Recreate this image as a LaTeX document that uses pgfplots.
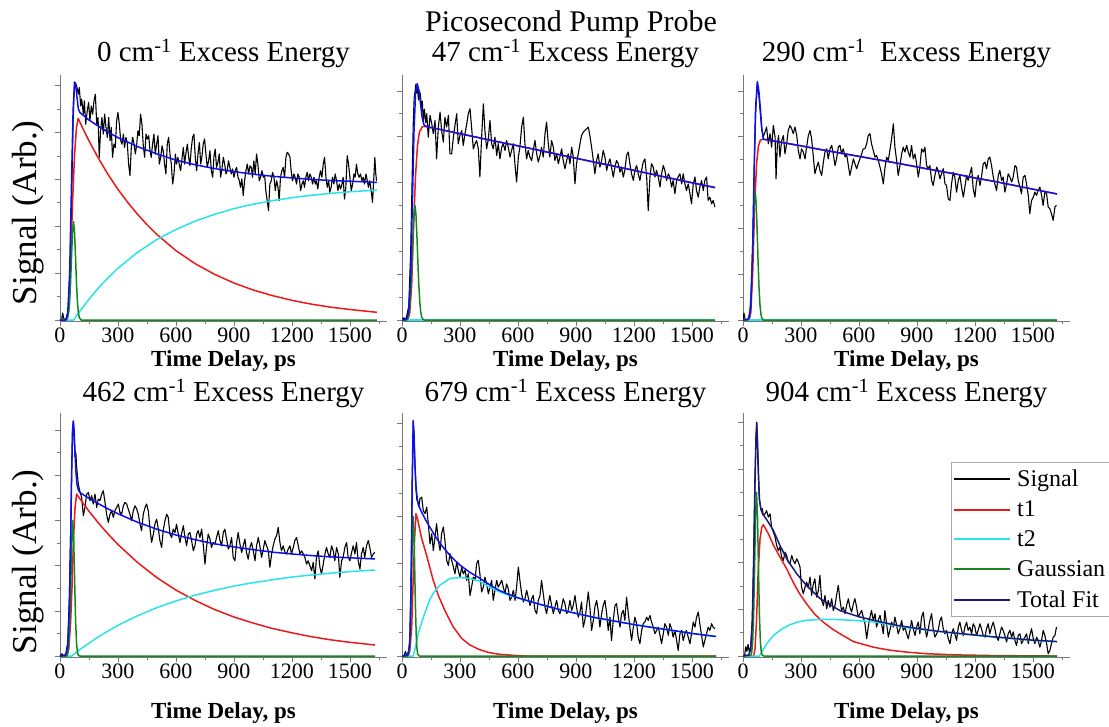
\documentclass[border=0pt]{standalone}
\usepackage{fontspec}
\setmainfont{Liberation Serif}
\usepackage{pgfplots}
\pgfplotsset{compat=1.18}

\definecolor{axgray}{RGB}{120,120,120}
\definecolor{leggray}{RGB}{170,170,170}
\definecolor{tone}{RGB}{235,25,25}
\definecolor{ttwo}{RGB}{40,228,232}
\definecolor{gauss}{RGB}{20,135,30}
\definecolor{fit}{RGB}{15,15,232}
\definecolor{fitnavy}{RGB}{25,25,125}

\tikzset{
  sig/.style={draw=black, line width=1.1pt, line join=round},
  fitln/.style={line width=1.5pt, line join=round},
}

\pgfplotsset{
  panel/.style={
    scale only axis, width=327pt,
    xmin=0, xmax=1692, ymin=-0.004,
    axis lines=left,
    axis line style={-, draw=axgray, line width=0.8pt},
    every tick/.style={draw=axgray, line width=0.6pt},
    tick align=outside,
    major tick length=5pt, minor tick length=3pt,
    xtick={0,300,600,900,1200,1500},
    minor xtick={150,450,750,1050,1350,1650},
    ytick={0,0.2,0.4,0.6,0.8,1.0},
    minor ytick={0.1,0.3,0.5,0.7,0.9},
    yticklabels={},
    xticklabel style={font=\fontsize{22}{22}\selectfont, inner sep=2pt},
    /pgf/number format/assume math mode=true,
    /pgf/number format/1000 sep={},
    title style={font=\fontsize{29}{29}\selectfont, at={(0.5,1)}, anchor=base},
    xlabel={Time Delay, ps},
    xlabel style={font=\bfseries\fontsize{23}{23}\selectfont, anchor=center, inner sep=1pt},
    ylabel style={font=\fontsize{35}{35}\selectfont, anchor=center,
      at={(axis description cs:-0.098,0.44)}},
  },
  toprow/.style={height=246pt, title style={yshift=7pt},
    xlabel style={at={(axis description cs:0.5,-0.163)}}},
  botrow/.style={height=244pt, title style={yshift=5pt},
    xlabel style={at={(axis description cs:0.5,-0.23)}}},
}

\begin{document}
\begin{tikzpicture}
\path[use as bounding box] (0pt,0pt) rectangle (1109pt,727pt);
\node[font=\fontsize{30}{30}\selectfont, anchor=base] at (571pt,695pt) {Picosecond Pump Probe};

% ---------------- 0 cm-1 ----------------
\begin{axis}[panel, toprow, at={(60pt,406pt)}, anchor=south west, ymax=1.045,
  title={0 cm\textsuperscript{-1} Excess Energy}, ylabel={Signal (Arb.)}]
\addplot[sig] coordinates {
(0,0) (8,0) (14,0.03) (18,0.01) (25,0) (35,0.01) (45,0.06) (55,0.3) (62,0.6) (68,0.85) (73,0.97) (78,1.013)
(86,0.999) (95,0.963) (100,0.991) (107,0.913) (112,0.942) (121,0.878) (126,0.935) (133,0.835) (141,0.892)
(148,0.928) (155,0.850) (162,0.913) (169,0.878) (176,0.935) (183,0.963) (190,0.835) (197,0.864) (203,0.694)
(210,0.807) (217,0.864) (224,0.793) (231,0.878) (238,0.821) (245,0.779) (252,0.864) (259,0.765) (265,0.821)
(272,0.694) (279,0.750) (286,0.736) (293,0.850) (300,0.885) (307,0.835) (314,0.765) (321,0.750) (328,0.793)
(334,0.736) (341,0.779) (348,0.757) (355,0.665) (362,0.616) (369,0.736) (376,0.779) (383,0.750) (390,0.708)
(397,0.750) (403,0.807) (410,0.786) (417,0.878) (424,0.835) (431,0.743) (438,0.694) (445,0.793) (452,0.772)
(459,0.786) (465,0.729) (472,0.694) (479,0.750) (486,0.793) (493,0.708) (500,0.750) (507,0.786) (514,0.665)
(521,0.694) (528,0.743) (534,0.722) (541,0.665) (548,0.623) (555,0.750) (562,0.779) (569,0.708) (576,0.665)
(583,0.580) (590,0.623) (597,0.708) (603,0.665) (610,0.694) (617,0.665) (624,0.637) (631,0.687) (638,0.736)
(645,0.665) (652,0.715) (659,0.750) (665,0.701) (672,0.658) (679,0.729) (686,0.779) (693,0.793) (700,0.694)
(707,0.637) (714,0.708) (721,0.757) (728,0.665) (734,0.694) (741,0.750) (748,0.772) (755,0.708) (762,0.651)
(769,0.679) (776,0.722) (783,0.637) (790,0.609) (797,0.701) (803,0.729) (810,0.651) (817,0.672) (824,0.708)
(831,0.609) (838,0.644) (845,0.694) (852,0.665) (859,0.623) (865,0.637) (872,0.679) (879,0.651) (886,0.623)
(893,0.644) (900,0.609) (907,0.637) (914,0.651) (921,0.609) (928,0.594) (934,0.566) (941,0.602) (948,0.531)
(955,0.594) (962,0.637) (969,0.665) (976,0.623) (983,0.658) (990,0.651) (996,0.609) (1003,0.679) (1010,0.623)
(1017,0.708) (1024,0.665) (1031,0.594) (1038,0.609) (1045,0.637) (1052,0.609) (1059,0.616) (1065,0.552)
(1072,0.509) (1079,0.467) (1086,0.580) (1093,0.594) (1100,0.630) (1107,0.609) (1114,0.552) (1121,0.594)
(1128,0.566) (1134,0.509) (1141,0.609) (1148,0.637) (1155,0.651) (1162,0.609) (1169,0.694) (1176,0.715)
(1183,0.708) (1190,0.694) (1196,0.637) (1203,0.594) (1210,0.623) (1217,0.609) (1224,0.580) (1231,0.623)
(1238,0.609) (1245,0.552) (1252,0.580) (1259,0.594) (1265,0.566) (1272,0.609) (1279,0.630) (1286,0.594)
(1293,0.623) (1300,0.609) (1307,0.580) (1314,0.609) (1321,0.580) (1327,0.594) (1334,0.559) (1341,0.609)
(1348,0.637) (1355,0.609) (1362,0.665) (1369,0.694) (1376,0.609) (1383,0.566) (1390,0.594) (1396,0.545)
(1403,0.566) (1410,0.609) (1417,0.580) (1424,0.623) (1431,0.594) (1438,0.552) (1445,0.580) (1452,0.559)
(1459,0.580) (1465,0.609) (1472,0.516) (1479,0.566) (1486,0.701) (1493,0.665) (1500,0.609) (1507,0.552)
(1514,0.580) (1521,0.623) (1527,0.609) (1534,0.665) (1541,0.623) (1548,0.609) (1555,0.623) (1562,0.594)
(1569,0.609) (1576,0.580) (1583,0.623) (1590,0.594) (1596,0.566) (1603,0.594) (1610,0.552) (1617,0.502)
(1624,0.609) (1629,0.694) (1634,0.623) (1638,0.594)
};
\addplot[fitln, tone] coordinates {
(0,0) (35,0) (45,0.05) (55,0.25) (65,0.5) (75,0.7) (85,0.82) (94,0.86) (120,0.814) (150,0.764) (200,0.688)
(250,0.619) (300,0.557) (350,0.502) (400,0.452) (450,0.407) (500,0.366) (600,0.296) (700,0.240) (800,0.195)
(900,0.158) (1000,0.128) (1100,0.104) (1200,0.084) (1300,0.068) (1400,0.055) (1500,0.045) (1640,0.033)
};
\addplot[fitln, ttwo] coordinates {
(0,0) (70,0) (100,0.035) (150,0.089) (200,0.138) (250,0.181) (300,0.221) (400,0.288) (500,0.343) (600,0.386)
(700,0.422) (800,0.451) (900,0.475) (1000,0.494) (1100,0.509) (1200,0.522) (1300,0.532) (1400,0.540)
(1500,0.547) (1640,0.554)
};
\addplot[fitln, gauss] coordinates {
(0,0) (30,0) (40,0.010) (45,0.032) (50,0.080) (55,0.164) (60,0.278) (65,0.378) (70,0.42) (75,0.378) (80,0.278)
(85,0.164) (90,0.080) (95,0.032) (100,0.010) (110,0) (1640,0)
};
\addplot[fitln, fit] coordinates {
(0,0) (30,0) (40,0.03) (50,0.2) (60,0.6) (68,0.9) (75,1.015) (80,1.01) (88,0.95) (95,0.9) (103,0.885)
(125,0.87) (150,0.853) (200,0.826) (250,0.80) (300,0.778) (400,0.740) (500,0.709) (600,0.682) (700,0.662)
(800,0.646) (900,0.633) (1000,0.622) (1100,0.613) (1200,0.606) (1300,0.600) (1400,0.595) (1500,0.592)
(1640,0.587)
};
\end{axis}

% ---------------- 47 cm-1 ----------------
\begin{axis}[panel, toprow, at={(402pt,406pt)}, anchor=south west, ymax=1.069,
  title={47 cm\textsuperscript{-1} Excess Energy}]
\addplot[sig] coordinates {
(0,0) (10,0.01) (18,0) (25,0.02) (35,0.06) (45,0.3) (52,0.6) (58,0.85) (63,0.97) (68,1.0) (72,1.03) (76,0.99)
(80,1.02) (85,0.96) (90,1.0) (95,0.985) (100,0.93) (105,0.955) (110,0.87) (116,0.92) (122,0.86)
(128,0.900) (136,0.798) (145,0.893) (154,0.856) (162,0.813) (171,0.871) (179,0.703) (188,0.842) (197,0.907)
(205,0.827) (214,0.776) (222,0.885) (231,0.842) (240,0.893) (248,0.725) (257,0.725) (266,0.798) (274,0.849)
(283,0.900) (291,0.769) (300,0.805) (309,0.827) (317,0.762) (326,0.813) (335,0.856) (343,0.900) (352,0.922)
(360,0.842) (369,0.747) (378,0.769) (386,0.783) (395,0.747) (403,0.624) (412,0.798) (421,0.943) (429,0.827)
(438,0.747) (447,0.791) (455,0.871) (464,0.769) (472,0.747) (481,0.798) (490,0.718) (498,0.769) (507,0.703)
(516,0.754) (524,0.769) (533,0.740) (541,0.783) (550,0.754) (559,0.711) (567,0.740) (576,0.769) (585,0.674)
(593,0.602) (602,0.711) (610,0.754) (619,0.842) (628,0.885) (636,0.769) (645,0.703) (653,0.740) (662,0.711)
(671,0.696) (679,0.740) (688,0.783) (697,0.725) (705,0.689) (714,0.718) (722,0.754) (731,0.711) (740,0.813)
(748,0.863) (757,0.769) (765,0.711) (774,0.783) (783,0.754) (791,0.696) (800,0.725) (809,0.682) (817,0.711)
(826,0.747) (834,0.696) (843,0.660) (852,0.696) (860,0.725) (869,0.682) (878,0.754) (886,0.711) (895,0.594)
(903,0.682) (912,0.725) (921,0.769) (929,0.805) (938,0.820) (946,0.827) (955,0.834) (964,0.842) (972,0.805)
(981,0.754) (990,0.696) (998,0.638) (1007,0.696) (1015,0.725) (1024,0.667) (1033,0.696) (1041,0.740)
(1050,0.711) (1059,0.653) (1067,0.682) (1076,0.703) (1084,0.667) (1093,0.624) (1102,0.667) (1110,0.696)
(1119,0.682) (1128,0.645) (1136,0.667) (1145,0.624) (1153,0.653) (1162,0.718) (1171,0.733) (1179,0.682)
(1188,0.638) (1197,0.609) (1205,0.653) (1214,0.674) (1222,0.638) (1231,0.609) (1240,0.653) (1248,0.689)
(1257,0.703) (1266,0.624) (1274,0.478) (1283,0.624) (1291,0.682) (1300,0.667) (1309,0.624) (1317,0.653)
(1326,0.624) (1335,0.580) (1343,0.638) (1352,0.674) (1360,0.653) (1369,0.609) (1378,0.638) (1386,0.624)
(1395,0.580) (1403,0.609) (1412,0.551) (1421,0.609) (1429,0.624) (1438,0.638) (1447,0.594) (1455,0.638)
(1464,0.594) (1472,0.565) (1481,0.594) (1490,0.551) (1498,0.507) (1507,0.594) (1516,0.624) (1524,0.565)
(1533,0.536) (1541,0.580) (1550,0.609) (1559,0.565) (1567,0.609) (1576,0.624) (1584,0.522) (1593,0.536)
(1602,0.507) (1610,0.522) (1619,0.493)
};
\addplot[fitln, tone] coordinates {
(0,0) (30,0) (40,0.03) (50,0.15) (60,0.41) (70,0.63) (80,0.76) (90,0.82) (105,0.843) (120,0.845) (200,0.831)
(300,0.813) (400,0.795) (500,0.777) (600,0.760) (700,0.742) (800,0.724) (900,0.706) (1000,0.688) (1100,0.671)
(1200,0.653) (1300,0.635) (1400,0.617) (1500,0.599) (1620,0.578)
};
\addplot[fitln, ttwo] coordinates {(0,0) (1620,0)};
\addplot[fitln, gauss] coordinates {
(0,0) (25,0) (27,0.005) (32,0.014) (37,0.035) (42,0.079) (47,0.153) (52,0.257) (57,0.372) (62,0.464) (67,0.5)
(72,0.464) (77,0.372) (82,0.257) (87,0.153) (92,0.079) (97,0.035) (102,0.014) (107,0.005) (115,0) (1620,0)
};
\addplot[fitln, fit] coordinates {
(0,0) (25,0.005) (35,0.04) (45,0.2) (55,0.56) (62,0.82) (70,0.99) (79,1.031) (88,1.0) (95,0.95) (103,0.89)
(112,0.855) (120,0.845) (200,0.831) (300,0.813) (400,0.795) (500,0.777) (600,0.760) (700,0.742) (800,0.724)
(900,0.706) (1000,0.688) (1100,0.671) (1200,0.653) (1300,0.635) (1400,0.617) (1500,0.599) (1620,0.578)
};
\end{axis}

% ---------------- 290 cm-1 ----------------
\begin{axis}[panel, toprow, at={(743pt,406pt)}, anchor=south west, ymax=1.069,
  title={290 cm\textsuperscript{-1}\ \ Excess Energy}]
\addplot[sig] coordinates {
(0,0) (5,0.03) (12,0) (25,0) (35,0.01) (42,0.08) (50,0.3) (58,0.65) (65,0.9) (74,1.03) (82,0.98) (90,0.9)
(97,0.83) (105,0.8)
(114,0.820) (122,0.842) (131,0.769) (140,0.813) (148,0.754) (157,0.849) (166,0.798) (171,0.616) (178,0.769)
(184,0.805) (191,0.711) (200,0.783) (209,0.805) (217,0.725) (226,0.769) (234,0.827) (243,0.849) (252,0.834)
(260,0.813) (269,0.842) (278,0.805) (286,0.740) (295,0.703) (303,0.747) (312,0.733) (321,0.703) (329,0.754)
(338,0.805) (347,0.827) (355,0.791) (364,0.711) (372,0.638) (381,0.667) (390,0.689) (398,0.653) (407,0.631)
(416,0.689) (424,0.733) (433,0.747) (441,0.703) (450,0.747) (459,0.762) (467,0.725) (476,0.674) (484,0.703)
(493,0.754) (502,0.762) (510,0.725) (519,0.747) (528,0.711) (536,0.725) (545,0.674) (553,0.631) (562,0.667)
(571,0.703) (579,0.682) (588,0.660) (596,0.682) (605,0.703) (614,0.725) (622,0.747) (631,0.747) (640,0.769)
(648,0.805) (657,0.813) (665,0.769) (674,0.740) (683,0.711) (691,0.718) (700,0.696) (709,0.667) (717,0.638)
(726,0.594) (734,0.660) (743,0.711) (752,0.696) (760,0.740) (769,0.791) (778,0.856) (786,0.754) (795,0.696)
(803,0.631) (812,0.674) (821,0.725) (829,0.754) (838,0.733) (847,0.762) (855,0.733) (864,0.711) (872,0.762)
(881,0.703) (890,0.725) (898,0.682) (907,0.624) (915,0.667) (924,0.747) (933,0.733) (941,0.754) (950,0.674)
(959,0.660) (967,0.674) (976,0.609) (984,0.587) (993,0.631) (1002,0.667) (1010,0.653) (1019,0.616)
(1027,0.638) (1036,0.660) (1045,0.594) (1053,0.587) (1062,0.529) (1071,0.522) (1079,0.594) (1088,0.645)
(1096,0.624) (1105,0.558) (1114,0.609) (1122,0.631) (1131,0.580) (1140,0.536) (1148,0.580) (1157,0.631)
(1165,0.609) (1174,0.638) (1183,0.667) (1191,0.573) (1200,0.536) (1208,0.602) (1217,0.631) (1226,0.587)
(1234,0.624) (1243,0.682) (1252,0.689) (1260,0.660) (1269,0.703) (1277,0.711) (1286,0.674) (1295,0.624)
(1303,0.594) (1312,0.565) (1321,0.631) (1329,0.653) (1338,0.609) (1346,0.624) (1355,0.558) (1364,0.594)
(1372,0.638) (1381,0.624) (1390,0.602) (1398,0.624) (1407,0.674) (1415,0.667) (1424,0.609) (1433,0.580)
(1441,0.551) (1450,0.624) (1459,0.631) (1467,0.594) (1476,0.544) (1484,0.464) (1493,0.522) (1502,0.536)
(1510,0.558) (1519,0.544) (1527,0.565) (1536,0.580) (1545,0.544) (1553,0.500) (1562,0.558) (1571,0.551)
(1579,0.493) (1588,0.485) (1596,0.464) (1605,0.435) (1614,0.493) (1622,0.500)
};
\addplot[fitln, tone] coordinates {
(0,0) (30,0) (40,0.03) (50,0.2) (60,0.49) (70,0.68) (80,0.76) (90,0.785) (105,0.789) (200,0.775) (300,0.760)
(400,0.744) (500,0.729) (600,0.714) (700,0.699) (800,0.684) (900,0.668) (1000,0.652) (1100,0.637)
(1200,0.620) (1300,0.605) (1400,0.588) (1500,0.571) (1625,0.550)
};
\addplot[fitln, ttwo] coordinates {(0,0) (1625,0)};
\addplot[fitln, gauss] coordinates {
(0,0) (25,0) (28,0.008) (33,0.025) (38,0.064) (43,0.139) (48,0.256) (53,0.396) (58,0.514) (63,0.56) (68,0.514)
(73,0.396) (78,0.256) (83,0.139) (88,0.064) (93,0.025) (98,0.008) (105,0) (1625,0)
};
\addplot[fitln, fit] coordinates {
(0,0) (30,0.005) (40,0.05) (50,0.31) (58,0.67) (65,0.92) (74,1.04) (82,1.0) (90,0.92) (97,0.84) (105,0.789)
(200,0.775) (300,0.760) (400,0.744) (500,0.729) (600,0.714) (700,0.699) (800,0.684) (900,0.668) (1000,0.652)
(1100,0.637) (1200,0.620) (1300,0.605) (1400,0.588) (1500,0.571) (1625,0.550)
};
\end{axis}

% ---------------- 462 cm-1 ----------------
\begin{axis}[panel, botrow, at={(60pt,70pt)}, anchor=south west, ymax=1.076,
  title={462 cm\textsuperscript{-1} Excess Energy}, ylabel={Signal (Arb.)},
  ylabel style={at={(axis description cs:-0.098,0.39)}}]
\addplot[sig] coordinates {
(0,0) (10,0.01) (20,0) (30,0.01) (40,0.06) (48,0.25) (55,0.55) (60,0.8) (65,1.0) (69,1.04) (74,0.95) (78,0.88)
(82,0.9) (86,0.84) (90,0.8) (95,0.76) (100,0.74) (106,0.72)
(112,0.702) (121,0.621) (129,0.658) (138,0.717) (147,0.724) (155,0.688) (164,0.710) (172,0.673) (181,0.717)
(190,0.658) (198,0.695) (207,0.688) (216,0.717) (224,0.732) (233,0.680) (241,0.628) (250,0.592) (259,0.628)
(267,0.643) (276,0.614) (284,0.643) (293,0.658) (302,0.673) (310,0.636) (319,0.628) (328,0.665) (336,0.680)
(345,0.673) (353,0.651) (362,0.628) (371,0.599) (379,0.643) (388,0.665) (397,0.651) (405,0.628) (414,0.584)
(422,0.555) (431,0.628) (440,0.658) (448,0.673) (457,0.643) (465,0.570) (474,0.503) (483,0.540) (491,0.584)
(500,0.606) (509,0.562) (517,0.511) (526,0.481) (534,0.555) (543,0.599) (552,0.628) (560,0.614) (569,0.540)
(578,0.525) (586,0.562) (595,0.547) (603,0.584) (612,0.540) (621,0.503) (629,0.540) (638,0.577) (647,0.525)
(655,0.488) (664,0.540) (672,0.547) (681,0.511) (690,0.466) (698,0.488) (707,0.540) (715,0.555) (724,0.525)
(733,0.562) (741,0.496) (750,0.407) (759,0.488) (767,0.540) (776,0.518) (784,0.481) (793,0.503) (802,0.496)
(810,0.525) (819,0.555) (828,0.511) (836,0.488) (845,0.547) (853,0.562) (862,0.518) (871,0.474) (879,0.488)
(888,0.525) (896,0.437) (905,0.422) (914,0.503) (922,0.547) (931,0.496) (940,0.459) (948,0.488) (957,0.518)
(965,0.459) (974,0.429) (983,0.481) (991,0.503) (1000,0.466) (1009,0.422) (1017,0.488) (1026,0.525)
(1034,0.488) (1043,0.437) (1052,0.474) (1060,0.511) (1069,0.488) (1078,0.466) (1086,0.393) (1095,0.452)
(1103,0.488) (1112,0.518) (1121,0.533) (1129,0.570) (1138,0.503) (1146,0.466) (1155,0.488) (1164,0.459)
(1172,0.452) (1181,0.474) (1190,0.488) (1198,0.452) (1207,0.481) (1215,0.511) (1224,0.525) (1233,0.488)
(1241,0.452) (1250,0.466) (1259,0.452) (1267,0.437) (1276,0.407) (1284,0.422) (1293,0.400) (1302,0.378)
(1310,0.415) (1319,0.341) (1327,0.437) (1336,0.466) (1345,0.393) (1353,0.363) (1362,0.407) (1371,0.452)
(1379,0.481) (1388,0.452) (1396,0.437) (1405,0.488) (1414,0.466) (1422,0.422) (1431,0.481) (1440,0.452)
(1448,0.348) (1457,0.422) (1465,0.437) (1474,0.481) (1483,0.503) (1491,0.437) (1500,0.422) (1509,0.459)
(1517,0.488) (1526,0.452) (1534,0.503) (1543,0.422) (1552,0.385) (1560,0.452) (1569,0.481) (1577,0.437)
(1586,0.488) (1595,0.511) (1603,0.481) (1612,0.437) (1621,0.452) (1629,0.459)
};
\addplot[fitln, tone] coordinates {
(0,0) (35,0) (45,0.03) (55,0.15) (62,0.30) (70,0.52) (78,0.66) (86,0.717) (110,0.688) (150,0.641) (200,0.588)
(250,0.539) (300,0.494) (400,0.415) (500,0.348) (600,0.292) (700,0.246) (800,0.206) (900,0.173) (1000,0.146)
(1100,0.122) (1200,0.103) (1300,0.086) (1400,0.072) (1500,0.061) (1630,0.049)
};
\addplot[fitln, ttwo] coordinates {
(0,0) (60,0) (100,0.027) (150,0.057) (200,0.086) (250,0.112) (300,0.136) (400,0.178) (500,0.214) (600,0.244)
(700,0.270) (800,0.291) (900,0.310) (1000,0.325) (1100,0.338) (1200,0.350) (1300,0.359) (1400,0.367)
(1500,0.374) (1630,0.381)
};
\addplot[fitln, gauss] coordinates {
(0,0) (35,0) (41,0.013) (46,0.051) (51,0.150) (56,0.323) (61,0.514) (66,0.6) (71,0.514) (76,0.323) (81,0.150)
(86,0.051) (91,0.013) (96,0.002) (105,0) (1630,0)
};
\addplot[fitln, fit] coordinates {
(0,0) (30,0.005) (40,0.04) (48,0.2) (55,0.5) (60,0.8) (65,1.0) (69,1.041) (73,1.0) (77,0.92) (82,0.82)
(88,0.76) (95,0.735) (103,0.724) (150,0.698) (200,0.674) (250,0.651) (300,0.630) (400,0.593) (500,0.562)
(600,0.536) (700,0.515) (800,0.497) (900,0.483) (1000,0.471) (1100,0.460) (1200,0.452) (1300,0.445)
(1400,0.439) (1500,0.435) (1630,0.430)
};
\end{axis}

% ---------------- 679 cm-1 ----------------
\begin{axis}[panel, botrow, at={(402pt,70pt)}, anchor=south west, ymax=1.043,
  title={679 cm\textsuperscript{-1} Excess Energy}]
\addplot[sig] coordinates {
(0,0) (10,0) (18,0.02) (25,0) (35,0.02) (42,0.1) (48,0.4) (53,0.75) (58,1.0) (62,0.96) (67,0.82) (72,0.72)
(77,0.67) (82,0.66) (87,0.64)
(93,0.675) (102,0.682) (110,0.625) (119,0.611) (128,0.639) (136,0.568) (145,0.482) (154,0.525) (162,0.453)
(171,0.511) (179,0.568) (188,0.496) (197,0.453) (205,0.525) (214,0.554) (222,0.496) (231,0.411) (240,0.389)
(248,0.439) (257,0.411) (266,0.382) (274,0.353) (283,0.403) (291,0.368) (300,0.339) (309,0.382) (317,0.353)
(326,0.368) (335,0.325) (343,0.353) (352,0.260) (360,0.296) (369,0.339) (378,0.325) (386,0.396) (395,0.411)
(403,0.353) (412,0.275) (421,0.296) (429,0.339) (438,0.310) (447,0.267) (455,0.296) (464,0.325) (472,0.239)
(481,0.282) (490,0.325) (498,0.296) (507,0.310) (516,0.325) (524,0.296) (533,0.267) (541,0.310) (550,0.289)
(559,0.239) (567,0.253) (576,0.282) (585,0.239) (593,0.296) (602,0.382) (610,0.325) (619,0.267) (628,0.232)
(636,0.246) (645,0.282) (653,0.253) (662,0.217) (671,0.246) (679,0.260) (688,0.196) (697,0.182) (705,0.239)
(714,0.260) (722,0.325) (731,0.267) (740,0.210) (748,0.182) (757,0.225) (765,0.260) (774,0.217) (783,0.182)
(791,0.210) (800,0.239) (809,0.196) (817,0.182) (826,0.210) (834,0.246) (843,0.225) (852,0.182) (860,0.196)
(869,0.239) (878,0.196) (886,0.217) (895,0.260) (903,0.210) (912,0.167) (921,0.189) (929,0.232) (938,0.124)
(946,0.153) (955,0.210) (964,0.275) (972,0.210) (981,0.110) (990,0.153) (998,0.210) (1007,0.239) (1015,0.196)
(1024,0.124) (1033,0.182) (1041,0.217) (1050,0.239) (1059,0.182) (1067,0.110) (1076,0.167) (1084,0.067)
(1093,0.153) (1102,0.217) (1110,0.225) (1119,0.167) (1128,0.124) (1136,0.182) (1145,0.196) (1153,0.153)
(1162,0.253) (1171,0.182) (1179,0.124) (1188,0.067) (1197,0.124) (1205,0.167) (1214,0.139) (1222,0.081)
(1231,0.053) (1240,0.110) (1248,0.139) (1257,0.146) (1266,0.167) (1274,0.153) (1283,0.174) (1291,0.146)
(1300,0.124) (1309,0.096) (1317,0.110) (1326,0.124) (1335,0.089) (1343,0.053) (1352,0.096) (1360,0.139)
(1369,0.124) (1378,0.089) (1386,0.139) (1395,0.117) (1403,0.081) (1412,0.110) (1421,0.067) (1429,0.024)
(1438,0.096) (1447,0.110) (1455,0.067) (1464,0.096) (1472,0.110) (1481,0.081) (1490,0.053) (1498,0.096)
(1507,0.146) (1516,0.124) (1524,0.167) (1533,0.189) (1541,0.139) (1550,0.089) (1559,0.039) (1567,0.067)
(1576,0.096) (1584,0.124) (1593,0.110) (1602,0.139) (1610,0.124) (1619,0.117)
};
\addplot[fitln, tone] coordinates {
(0,0) (30,0) (40,0.02) (50,0.12) (58,0.33) (65,0.5) (72,0.611) (80,0.59) (100,0.51) (128,0.43) (160,0.33)
(188,0.26) (225,0.19) (265,0.125) (310,0.075) (350,0.048) (400,0.028) (450,0.015) (500,0.008) (576,0.003)
(650,0) (1625,0)
};
\addplot[fitln, ttwo] coordinates {
(0,0) (58,0) (70,0.04) (85,0.10) (110,0.165) (145,0.245) (162,0.27) (197,0.305) (248,0.333) (300,0.337)
(350,0.333) (400,0.322) (450,0.297) (500,0.277) (550,0.262) (600,0.249) (700,0.225) (800,0.203) (900,0.183)
(1000,0.165) (1100,0.150) (1200,0.135) (1300,0.122) (1400,0.110) (1500,0.097) (1625,0.084)
};
\addplot[fitln, gauss] coordinates {
(0,0) (30,0) (34,0.007) (38,0.026) (42,0.081) (46,0.195) (50,0.364) (54,0.529) (58,0.6) (62,0.529) (66,0.364)
(70,0.195) (74,0.081) (78,0.026) (82,0.007) (90,0) (1625,0)
};
\addplot[fitln, fit] coordinates {
(0,0) (30,0.005) (40,0.05) (47,0.3) (53,0.75) (58,1.01) (62,0.95) (67,0.82) (73,0.72) (80,0.67) (87,0.645)
(100,0.62) (125,0.58) (150,0.545) (175,0.51) (200,0.48) (250,0.43) (300,0.39) (350,0.36) (400,0.335)
(450,0.308) (500,0.283) (550,0.265) (600,0.25) (700,0.225) (800,0.203) (900,0.183) (1000,0.165) (1100,0.150)
(1200,0.135) (1300,0.122) (1400,0.110) (1500,0.097) (1625,0.084)
};
\end{axis}

% ---------------- 904 cm-1 ----------------
\begin{axis}[panel, botrow, at={(743pt,70pt)}, anchor=south west, ymax=1.039,
  title={904 cm\textsuperscript{-1} Excess Energy},
  legend style={at={(axis description cs:0.636,0.799)}, anchor=north west,
    draw=leggray, fill=white,
    font=\fontsize{24}{24}\selectfont, inner xsep=2pt, inner ysep=6pt,
    row sep=8.5pt, /tikz/every even column/.append style={text depth=5pt},
    /tikz/every odd column/.append style={column sep=4pt}},
  legend cell align=left,
  legend image code/.code={\draw[#1, line width=2pt] (0pt,0pt) -- (56pt,0pt);}]
\addplot[sig] coordinates {
(0,0) (8,0) (14,0.04) (20,0.02) (26,0.05) (32,0.02) (40,0.04) (48,0.15) (55,0.4) (62,0.75) (67,0.93) (71,1.0)
(75,0.9) (80,0.76) (85,0.67) (90,0.64) (95,0.62) (100,0.63)
(105,0.601) (114,0.608) (122,0.622) (131,0.594) (140,0.608) (148,0.551) (157,0.530) (166,0.508) (174,0.473)
(183,0.451) (191,0.466) (200,0.423) (209,0.409) (217,0.444) (226,0.430) (234,0.402) (243,0.395) (252,0.430)
(260,0.409) (269,0.395) (278,0.416) (286,0.402) (295,0.380) (303,0.295) (312,0.266) (321,0.295) (329,0.316)
(338,0.295) (347,0.338) (355,0.259) (364,0.309) (372,0.330) (381,0.252) (390,0.280) (398,0.345) (407,0.238)
(416,0.216) (424,0.259) (433,0.202) (441,0.238) (450,0.209) (459,0.245) (467,0.195) (476,0.216) (484,0.259)
(493,0.302) (502,0.238) (510,0.195) (519,0.209) (528,0.181) (536,0.216) (545,0.245) (553,0.209) (562,0.188)
(571,0.224) (579,0.245) (588,0.209) (596,0.167) (605,0.181) (614,0.195) (622,0.167) (631,0.138) (640,0.074)
(648,0.124) (657,0.167) (665,0.195) (674,0.152) (683,0.181) (691,0.124) (700,0.152) (709,0.174) (717,0.138)
(726,0.095) (734,0.195) (743,0.138) (752,0.081) (760,0.110) (769,0.145) (778,0.124) (786,0.167) (795,0.131)
(803,0.095) (812,0.117) (821,0.152) (829,0.110) (838,0.124) (847,0.095) (855,0.074) (864,0.110) (872,0.152)
(881,0.117) (890,0.088) (898,0.124) (907,0.145) (915,0.095) (924,0.167) (933,0.188) (941,0.124) (950,0.081)
(959,0.117) (967,0.152) (976,0.181) (984,0.117) (993,0.081) (1002,0.095) (1010,0.110) (1019,0.152)
(1027,0.167) (1036,0.117) (1045,0.095) (1053,0.110) (1062,0.074) (1071,0.053) (1079,0.095) (1088,0.117)
(1096,0.095) (1105,0.067) (1114,0.124) (1122,0.145) (1131,0.110) (1140,0.088) (1148,0.124) (1157,0.145)
(1165,0.110) (1174,0.124) (1183,0.095) (1191,0.138) (1200,0.124) (1208,0.088) (1217,0.110) (1226,0.138)
(1234,0.117) (1243,0.088) (1252,0.081) (1260,0.117) (1269,0.138) (1277,0.095) (1286,0.124) (1295,0.145)
(1303,0.117) (1312,0.081) (1321,0.067) (1329,0.095) (1338,0.124) (1346,0.110) (1355,0.088) (1364,0.060)
(1372,0.095) (1381,0.110) (1390,0.081) (1398,0.103) (1407,0.067) (1415,0.045) (1424,0.088) (1433,0.095)
(1441,0.053) (1450,0.067) (1459,0.081) (1467,0.095) (1476,0.053) (1484,0.088) (1493,0.117) (1502,0.074)
(1510,0.053) (1519,0.081) (1527,0.067) (1536,0.038) (1545,0.067) (1553,0.110) (1562,0.088) (1571,0.053)
(1579,0.010) (1588,0.024) (1596,0.053) (1605,0.081) (1614,0.088) (1622,0.124)
};
\addlegendentry{Signal}
\addplot[fitln, tone] coordinates {
(0,0) (55,0) (62,0.03) (70,0.15) (78,0.35) (88,0.5) (97,0.55) (105,0.561) (130,0.525) (157,0.475) (190,0.425)
(226,0.373) (260,0.315) (290,0.27) (330,0.222) (370,0.18) (415,0.145) (460,0.117) (502,0.095) (571,0.062)
(674,0.038) (760,0.025) (846,0.017) (950,0.01) (1100,0.005) (1300,0.002) (1625,0)
};
\addlegendentry{t1}
\addplot[fitln, ttwo] coordinates {
(0,0) (85,0) (100,0.022) (125,0.055) (157,0.088) (200,0.115) (243,0.134) (290,0.147) (330,0.153) (415,0.157)
(500,0.156) (580,0.152) (674,0.146) (760,0.135) (846,0.122) (900,0.116) (1000,0.106) (1100,0.097)
(1200,0.089) (1300,0.081) (1400,0.074) (1500,0.067) (1625,0.061)
};
\addlegendentry{t2}
\addplot[fitln, gauss] coordinates {
(0,0) (40,0.003) (45,0.015) (50,0.060) (55,0.174) (60,0.377) (65,0.600) (70,0.70) (75,0.600) (80,0.377)
(85,0.174) (90,0.060) (95,0.015) (100,0.003) (110,0) (1625,0)
};
\addlegendentry{Gaussian}
\addplot[fitln, fitnavy] coordinates {
(0,0) (30,0.005) (40,0.03) (48,0.15) (55,0.4) (62,0.75) (67,0.93) (71,0.995) (75,0.92) (80,0.78) (85,0.67)
(92,0.63) (100,0.61) (125,0.58) (157,0.537) (190,0.475) (230,0.41) (280,0.35) (330,0.30) (400,0.245)
(500,0.195) (600,0.168) (700,0.148) (800,0.131) (900,0.118) (1000,0.107) (1100,0.098) (1200,0.09)
(1300,0.082) (1400,0.075) (1500,0.068) (1625,0.062)
};
\addlegendentry{Total Fit}
\end{axis}
\end{tikzpicture}
\end{document}
